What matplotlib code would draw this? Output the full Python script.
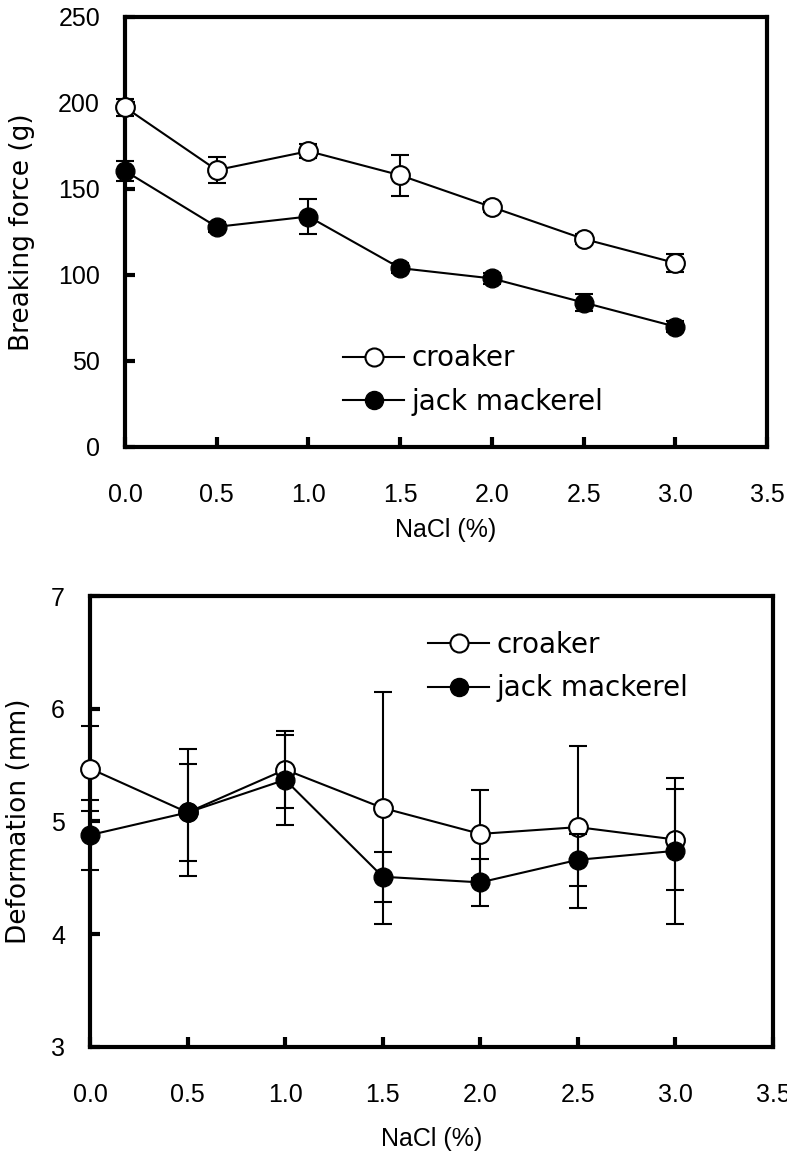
import matplotlib
matplotlib.use('Agg')
import matplotlib.pyplot as plt
from matplotlib.lines import Line2D

plt.rcParams['font.family'] = ['Liberation Sans', 'DejaVu Sans']

nacl = [0.0, 0.5, 1.0, 1.5, 2.0, 2.5, 3.0]

# breaking force (g)
bf_croaker = [197.5, 161, 172, 158, 139.5, 121, 107]
bf_croaker_err = [5, 7.5, 4, 12, 3, 3, 5.5]
bf_jack = [160.5, 128, 134, 104, 98, 84, 70]
bf_jack_err = [6, 3, 10, 3, 3, 5, 3]

# deformation (mm)
df_croaker = [5.47, 5.08, 5.46, 5.12, 4.89, 4.95, 4.84]
df_croaker_err = [0.38, 0.56, 0.34, 1.03, 0.39, 0.72, 0.45]
df_jack = [4.88, 5.08, 5.37, 4.51, 4.46, 4.66, 4.74]
df_jack_err = [0.31, 0.43, 0.40, 0.22, 0.21, 0.23, 0.65]

xticks = [0.0, 0.5, 1.0, 1.5, 2.0, 2.5, 3.0, 3.5]
tick_fs = 18
lab_font = dict(family='DejaVu Sans', size=19)


def draw(ax, yc, yce, yj, yje, ylim, yticks, ylabel, legend_anchor, ylab_x, xlabpad):
    ax.errorbar(nacl, yc, yerr=yce, fmt='-o', color='k', lw=1.5, ms=13.5,
                mfc='white', mec='k', mew=1.5, ecolor='k', elinewidth=1.5,
                capsize=6.5, capthick=1.5, clip_on=False, zorder=3)
    ax.errorbar(nacl, yj, yerr=yje, fmt='-o', color='k', lw=1.5, ms=13.5,
                mfc='k', mec='k', ecolor='k', elinewidth=1.5,
                capsize=6.5, capthick=1.5, clip_on=False, zorder=4)
    ax.set_xlim(0, 3.5)
    ax.set_ylim(*ylim)
    ax.set_xticks(xticks)
    ax.set_xticklabels(['%.1f' % v for v in xticks])
    ax.set_yticks(yticks)
    for s in ax.spines.values():
        s.set_linewidth(3)
    ax.tick_params(direction='in', length=7, width=3, labelsize=tick_fs)
    ax.tick_params(axis='x', pad=26)
    ax.tick_params(axis='y', pad=18)
    ax.set_xlabel('NaCl (%)', fontsize=tick_fs, labelpad=xlabpad)
    ax.set_ylabel(ylabel, fontdict=lab_font)
    ax.yaxis.set_label_coords(ylab_x, 0.5)
    handles = [
        Line2D([], [], color='k', lw=1.5, marker='o', ms=13, mfc='white', mec='k', mew=1.5),
        Line2D([], [], color='k', lw=1.5, marker='o', ms=13, mfc='k', mec='k'),
    ]
    ax.legend(handles, ['croaker', 'jack mackerel'], loc='center left',
              bbox_to_anchor=legend_anchor, frameon=False,
              prop=dict(family='DejaVu Sans', size=20),
              handlelength=2.2, handletextpad=0.25, labelspacing=0.55,
              borderaxespad=0, borderpad=0)


fig = plt.figure(figsize=(7.87, 11.6), dpi=100)
ax1 = fig.add_axes([125/787, 1 - 447/1160, 642/787, 430/1160])
ax2 = fig.add_axes([90/787, 1 - 1047/1160, 683/787, 451/1160])

draw(ax1, bf_croaker, bf_croaker_err, bf_jack, bf_jack_err, (0, 250),
     [0, 50, 100, 150, 200, 250], 'Breaking force (g)', (0.34, 0.156), -0.14, 8)
draw(ax2, df_croaker, df_croaker_err, df_jack, df_jack_err, (3, 7),
     [3, 4, 5, 6, 7], 'Deformation (mm)', (0.495, 0.843), -0.085, 14)

fig.savefig('out.png', dpi=100)
